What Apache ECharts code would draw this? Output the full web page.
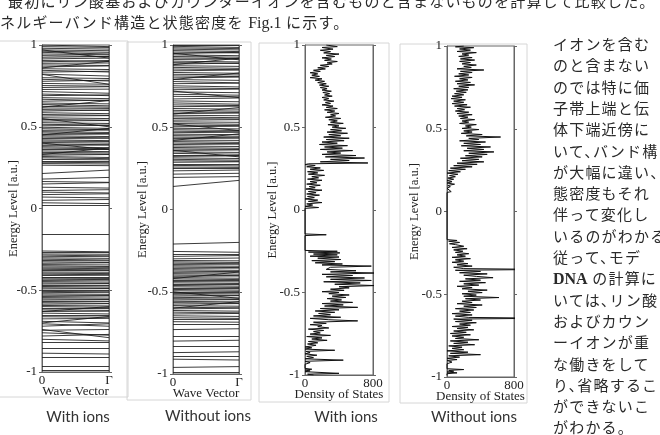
<!DOCTYPE html>
<html>
<head>
<meta charset="utf-8">
<script src="https://cdn.jsdelivr.net/npm/echarts@6/dist/echarts.min.js"></script>
<style>
html, body { margin: 0; padding: 0; background: #fff; overflow: hidden; }
#page { position: relative; width: 660px; height: 435px; overflow: hidden; background: #fff; }
#chart { position: absolute; left: 0; top: 0; width: 660px; height: 435px; }
.jp { position: absolute; font-family: "Noto Sans CJK JP", sans-serif; font-size: 15px; color: #2a2a2a; white-space: nowrap; line-height: 1; letter-spacing: 1.2px; }
.col { font-feature-settings: "halt"; }
.serif { font-family: "Liberation Serif", serif; letter-spacing: 0; font-size: 16px; }
</style>
</head>
<body>
<div id="page">
  <div id="chart"></div>
  <div id="prose"></div>
</div>
<script>
// band energies: [at k = 0, at Γ]
const bandWithIons = [
  [1.00,0.99],[0.99,0.985],[0.98,0.975],[0.97,0.965],[0.962,0.955],[0.955,0.945],[0.945,0.94],[0.935,0.93],
  [0.925,0.93],[0.915,0.92],[0.905,0.90],[0.897,0.905],[0.888,0.89],[0.878,0.875],[0.866,0.872],[0.855,0.85],
  [0.845,0.835],[0.834,0.84],[0.822,0.81],[0.80,0.795],[0.79,0.78],[0.778,0.785],[0.765,0.76],[0.752,0.748],
  [0.74,0.745],[0.728,0.73],[0.715,0.705],[0.70,0.69],[0.69,0.695],[0.678,0.672],[0.668,0.66],[0.656,0.663],
  [0.645,0.64],[0.636,0.628],[0.625,0.62],[0.615,0.612],[0.605,0.60],[0.596,0.602],[0.586,0.58],[0.575,0.57],
  [0.566,0.568],[0.555,0.55],[0.545,0.54],[0.535,0.538],[0.525,0.52],[0.515,0.51],[0.506,0.508],[0.497,0.49],
  [0.488,0.482],[0.478,0.48],[0.47,0.465],[0.462,0.458],[0.453,0.455],[0.445,0.44],[0.437,0.432],[0.428,0.43],
  [0.42,0.415],[0.412,0.41],[0.404,0.40],[0.395,0.39],[0.386,0.388],[0.378,0.372],[0.37,0.365],[0.36,0.362],
  [0.352,0.348],[0.343,0.34],[0.335,0.332],[0.326,0.33],[0.318,0.312],[0.31,0.305],[0.30,0.298],[0.292,0.29],
  [0.283,0.28],[0.275,0.272],[0.265,0.262],
  [0.97,0.92],[0.86,0.90],[0.82,0.76],[0.62,0.66],[0.55,0.50],[0.45,0.49],[0.40,0.36],[0.33,0.37],
  [0.214,0.235],[0.18,0.19],[0.165,0.16],[0.15,0.158],[0.13,0.125],[0.11,0.115],[0.10,0.095],[0.085,0.09],
  [0.07,0.065],[0.05,0.055],[0.035,0.03],[0.02,0.02],
  [-0.16,-0.16],
  [-0.26,-0.265],[-0.27,-0.268],[-0.278,-0.28],[-0.285,-0.29],[-0.295,-0.292],[-0.302,-0.305],[-0.31,-0.315],
  [-0.318,-0.32],[-0.326,-0.33],[-0.335,-0.332],[-0.343,-0.345],[-0.35,-0.355],[-0.358,-0.36],[-0.365,-0.368],
  [-0.372,-0.375],[-0.38,-0.378],[-0.388,-0.39],[-0.395,-0.398],[-0.402,-0.405],[-0.41,-0.408],[-0.418,-0.42],
  [-0.425,-0.428],[-0.432,-0.435],[-0.44,-0.438],[-0.447,-0.45],[-0.455,-0.458],[-0.462,-0.46],[-0.47,-0.472],
  [-0.477,-0.48],[-0.485,-0.488],[-0.492,-0.49],[-0.50,-0.502],[-0.507,-0.51],[-0.515,-0.512],[-0.522,-0.525],
  [-0.53,-0.532],[-0.538,-0.535],[-0.545,-0.548],[-0.553,-0.556],[-0.56,-0.558],[-0.568,-0.57],[-0.576,-0.58],
  [-0.585,-0.582],[-0.593,-0.596],[-0.60,-0.605],[-0.61,-0.608],[-0.62,-0.623],[-0.63,-0.628],[-0.64,-0.645],
  [-0.652,-0.65],[-0.662,-0.665],[-0.675,-0.672],
  [-0.63,-0.60],[-0.70,-0.66],[-0.74,-0.79],
  [-0.69,-0.70],[-0.705,-0.72],[-0.72,-0.705],[-0.745,-0.74],[-0.76,-0.775],[-0.78,-0.77],[-0.80,-0.81],
  [-0.82,-0.82],[-0.855,-0.855],[-0.885,-0.89],[-0.91,-0.91],[-0.965,-0.965],[-0.99,-0.99]
];

const bandWithoutIons = [
  [1.0,1.0],[0.992,0.985],[0.983,0.978],[0.975,0.97],[0.966,0.96],[0.957,0.952],[0.948,0.955],[0.94,0.935],
  [0.93,0.926],[0.921,0.918],[0.912,0.915],[0.902,0.897],[0.893,0.888],[0.884,0.89],[0.874,0.87],[0.864,0.858],
  [0.854,0.85],[0.843,0.848],[0.833,0.828],[0.822,0.818],[0.812,0.808],[0.80,0.805],[0.79,0.785],[0.778,0.77],
  [0.765,0.768],[0.752,0.745],[0.74,0.735],[0.728,0.732],[0.715,0.71],[0.70,0.695],[0.688,0.685],[0.672,0.678],
  [0.66,0.655],[0.648,0.64],[0.636,0.632],[0.625,0.628],[0.614,0.61],[0.603,0.598],[0.593,0.59],[0.583,0.586],
  [0.573,0.57],[0.563,0.558],[0.553,0.55],[0.543,0.546],[0.533,0.53],[0.523,0.518],[0.513,0.51],[0.503,0.506],
  [0.494,0.49],[0.485,0.48],[0.476,0.472],[0.467,0.47],[0.458,0.455],[0.449,0.445],[0.44,0.436],[0.431,0.434],
  [0.422,0.42],[0.413,0.408],[0.404,0.40],[0.395,0.398],[0.386,0.383],[0.377,0.372],[0.368,0.365],[0.359,0.362],
  [0.35,0.347],[0.341,0.336],[0.332,0.33],[0.323,0.326],[0.314,0.31],[0.305,0.30],[0.296,0.293],[0.287,0.29],
  [0.278,0.276],[0.268,0.265],[0.258,0.256],[0.248,0.25],[0.235,0.24],[0.215,0.22],[0.195,0.20],[0.14,0.177],
  [0.95,0.91],[0.88,0.92],[0.79,0.83],[0.72,0.68],[0.58,0.62],[0.52,0.48],[0.42,0.46],[0.36,0.32],
  [-0.21,-0.20],[-0.255,-0.26],[-0.27,-0.272],[-0.285,-0.28],[-0.30,-0.295],
  [-0.31,-0.312],[-0.318,-0.322],[-0.326,-0.33],[-0.334,-0.332],[-0.342,-0.345],[-0.35,-0.353],[-0.358,-0.356],
  [-0.366,-0.37],[-0.374,-0.378],[-0.382,-0.38],[-0.39,-0.393],[-0.398,-0.402],[-0.406,-0.404],[-0.414,-0.418],
  [-0.422,-0.426],[-0.43,-0.428],[-0.438,-0.44],[-0.446,-0.45],[-0.454,-0.452],[-0.462,-0.466],[-0.47,-0.474],
  [-0.478,-0.476],[-0.486,-0.49],[-0.494,-0.498],[-0.502,-0.50],[-0.51,-0.513],[-0.518,-0.522],[-0.526,-0.524],
  [-0.534,-0.538],[-0.542,-0.546],[-0.55,-0.548],[-0.558,-0.562],[-0.566,-0.57],[-0.575,-0.572],[-0.584,-0.588],
  [-0.594,-0.598],[-0.604,-0.60],[-0.614,-0.618],[-0.624,-0.628],[-0.635,-0.632],[-0.646,-0.65],[-0.658,-0.662],
  [-0.67,-0.668],[-0.682,-0.685],
  [-0.42,-0.38],[-0.50,-0.54],[-0.60,-0.56],
  [-0.70,-0.70],[-0.73,-0.725],[-0.77,-0.77],[-0.80,-0.795],[-0.83,-0.83],[-0.87,-0.865],[-0.89,-0.89],
  [-0.91,-0.915],[-0.96,-0.955],[-0.99,-0.99]
];

// density of states: [dos, energy]
const dosWithIons = [
  [250,1.0],[380,0.99],[200,0.985],[330,0.975],[180,0.968],[300,0.96],[220,0.952],[400,0.945],[250,0.937],
  [350,0.93],[200,0.922],[310,0.915],[230,0.907],[380,0.9],[260,0.892],[320,0.885],[180,0.877],[280,0.87],
  [150,0.862],[240,0.855],[100,0.847],[180,0.84],[60,0.832],[150,0.825],[80,0.817],[170,0.81],[60,0.802],
  [200,0.795],[120,0.787],[230,0.78],[150,0.772],[250,0.765],[170,0.757],[280,0.75],[180,0.742],[260,0.735],
  [200,0.727],[310,0.72],[210,0.712],[290,0.705],[230,0.697],[320,0.69],[200,0.682],[280,0.675],[220,0.667],
  [340,0.66],[240,0.652],[300,0.645],[200,0.637],[330,0.63],[250,0.622],[380,0.615],[230,0.607],[350,0.6],
  [260,0.592],[400,0.585],[300,0.577],[360,0.57],[240,0.562],[420,0.555],[280,0.547],[380,0.54],[300,0.532],
  [450,0.525],[270,0.517],[400,0.51],[320,0.502],[480,0.495],[300,0.487],[430,0.48],[260,0.472],[500,0.465],
  [280,0.457],[420,0.45],[220,0.442],[520,0.435],[250,0.427],[460,0.42],[200,0.412],[380,0.405],[170,0.397],
  [500,0.39],[230,0.382],[440,0.375],[180,0.367],[560,0.36],[260,0.352],[420,0.345],[200,0.337],[600,0.33],
  [240,0.322],[700,0.315],[300,0.307],[520,0.3],[180,0.292],[740,0.285],[40,0.28],[0,0.275],[120,0.27],
  [20,0.262],[180,0.255],[60,0.247],[220,0.24],[30,0.232],[150,0.225],[40,0.217],[230,0.21],[80,0.202],
  [160,0.195],[30,0.187],[200,0.18],[60,0.172],[140,0.165],[20,0.157],[180,0.15],[50,0.142],[120,0.135],
  [10,0.127],[200,0.12],[40,0.112],[130,0.105],[20,0.097],[170,0.09],[30,0.082],[110,0.075],[0,0.067],
  [150,0.06],[40,0.052],[200,0.045],[20,0.037],[90,0.03],[0,0.022],[160,0.015],[0,0.01],
  [0,-0.145],[250,-0.15],[0,-0.155],[0,-0.245],
  [380,-0.25],[40,-0.255],[410,-0.26],[100,-0.267],[380,-0.272],[60,-0.28],[400,-0.285],[150,-0.292],
  [420,-0.3],[80,-0.307],[350,-0.313],[120,-0.32],[440,-0.327],[200,-0.333],[780,-0.34],[300,-0.347],
  [250,-0.36],[600,-0.368],[300,-0.375],[830,-0.382],[200,-0.39],[560,-0.397],[250,-0.405],[700,-0.412],
  [300,-0.42],[780,-0.427],[220,-0.435],[650,-0.442],[350,-0.45],[830,-0.458],[400,-0.465],[520,-0.472],
  [300,-0.48],[460,-0.487],[200,-0.495],[400,-0.5],[280,-0.507],[520,-0.515],[320,-0.522],[480,-0.53],
  [260,-0.537],[430,-0.545],[300,-0.552],[560,-0.56],[200,-0.567],[450,-0.575],[230,-0.582],[620,-0.59],
  [180,-0.597],[400,-0.605],[120,-0.612],[350,-0.62],[160,-0.627],[300,-0.635],[100,-0.642],[420,-0.65],
  [60,-0.657],[280,-0.665],[620,-0.672],[100,-0.68],[250,-0.687],[60,-0.695],[200,-0.7],[150,-0.707],
  [280,-0.715],[40,-0.722],[220,-0.73],[100,-0.737],[180,-0.745],[60,-0.752],[300,-0.76],[20,-0.767],
  [200,-0.775],[80,-0.782],[260,-0.79],[40,-0.797],[150,-0.805],[30,-0.812],[130,-0.82],[0,-0.83],
  [80,-0.835],[0,-0.843],[350,-0.85],[10,-0.857],[60,-0.865],[0,-0.872],[140,-0.88],[20,-0.887],
  [100,-0.895],[0,-0.902],[450,-0.91],[0,-0.917],[60,-0.925],[0,-0.935],[0,-0.96],[80,-0.965],[0,-0.97],
  [60,-0.975],[0,-0.98],[400,-0.99],[30,-0.995],[100,-1.0]
];

const dosWithoutIons = [
  [200,1.0],[100,0.995],[320,0.99],[150,0.982],[280,0.975],[120,0.967],[350,0.96],[180,0.952],[260,0.945],
  [140,0.937],[300,0.93],[160,0.922],[330,0.915],[150,0.907],[280,0.9],[180,0.892],[350,0.885],[200,0.877],
  [290,0.87],[120,0.862],[440,0.855],[160,0.847],[300,0.84],[140,0.832],[260,0.825],[90,0.817],[300,0.81],
  [150,0.802],[250,0.795],[100,0.787],[280,0.78],[120,0.772],[330,0.765],[140,0.757],[260,0.75],[80,0.742],
  [250,0.735],[110,0.727],[230,0.72],[90,0.712],[200,0.705],[60,0.697],[180,0.69],[50,0.682],[220,0.675],
  [80,0.667],[200,0.66],[60,0.652],[240,0.645],[90,0.637],[280,0.63],[120,0.622],[210,0.615],[100,0.607],
  [260,0.6],[120,0.592],[300,0.585],[140,0.577],[250,0.57],[160,0.562],[330,0.555],[180,0.547],[260,0.54],
  [150,0.532],[350,0.525],[220,0.517],[290,0.51],[180,0.502],[380,0.495],[200,0.487],[300,0.48],[170,0.472],
  [420,0.465],[230,0.457],[640,0.45],[260,0.442],[380,0.435],[150,0.427],[460,0.42],[200,0.412],[400,0.405],
  [170,0.397],[520,0.39],[240,0.382],[440,0.375],[200,0.367],[560,0.36],[260,0.352],[480,0.345],[220,0.337],
  [420,0.33],[160,0.322],[380,0.315],[180,0.307],[440,0.3],[120,0.292],[360,0.285],[80,0.277],[300,0.27],
  [40,0.262],[220,0.255],[20,0.247],[160,0.24],[0,0.232],[130,0.225],[30,0.217],[100,0.21],[10,0.202],
  [80,0.195],[0,0.187],[60,0.18],[0,0.172],[90,0.165],[10,0.157],[40,0.15],[0,0.14],[50,0.12],[0,0.115],
  [0,-0.17],[120,-0.175],[20,-0.18],[150,-0.187],[30,-0.195],[100,-0.2],[200,-0.21],[60,-0.217],[240,-0.225],
  [80,-0.232],[190,-0.24],[100,-0.247],[260,-0.255],[120,-0.262],[220,-0.27],[60,-0.277],[280,-0.285],
  [100,-0.292],[200,-0.3],[60,-0.307],[250,-0.315],[120,-0.322],[300,-0.33],[80,-0.337],[200,-0.345],
  [1200,-0.35],[100,-0.355],[400,-0.362],[150,-0.37],[480,-0.377],[200,-0.385],[350,-0.392],[550,-0.4],
  [220,-0.407],[400,-0.415],[150,-0.422],[460,-0.43],[200,-0.437],[380,-0.445],[120,-0.452],[300,-0.46],
  [180,-0.467],[480,-0.475],[250,-0.482],[420,-0.49],[180,-0.497],[350,-0.505],[200,-0.512],[620,-0.52],
  [220,-0.527],[400,-0.535],[180,-0.542],[300,-0.55],[120,-0.557],[420,-0.565],[200,-0.572],[350,-0.58],
  [100,-0.587],[320,-0.595],[150,-0.602],[280,-0.61],[60,-0.617],[300,-0.625],[100,-0.632],[260,-0.64],
  [1200,-0.645],[80,-0.65],[300,-0.657],[100,-0.665],[350,-0.672],[150,-0.68],[280,-0.687],[60,-0.695],
  [250,-0.7],[120,-0.707],[320,-0.715],[80,-0.722],[230,-0.73],[40,-0.737],[280,-0.745],[60,-0.752],
  [200,-0.76],[100,-0.767],[380,-0.775],[40,-0.782],[250,-0.79],[80,-0.797],[330,-0.805],[20,-0.812],
  [180,-0.82],[60,-0.827],[200,-0.835],[0,-0.842],[250,-0.85],[40,-0.857],[400,-0.865],[20,-0.872],
  [150,-0.88],[0,-0.887],[120,-0.895],[0,-0.9],[60,-0.91],[0,-0.92],[0,-0.95],[200,-0.955],[20,-0.96],
  [80,-0.965],[0,-0.97],[120,-0.975],[0,-0.98],[0,-0.99]
];

const energyTicks = ['-1', '-0.5', '0', '0.5', '1'];
const bandXTicks = ['0', 'Γ'];
const dosXTicks = ['0', '800'];
const panelTitles = ['With ions', 'Without ions', 'With ions', 'Without ions'];

const topLines = [
  '最初にリン酸基およびカウンターイオンを含むものと含まないものを計算して比較した。',
  'ネルギーバンド構造と状態密度を <span class="serif">Fig.1</span> に示す。'
];
const columnLines = [
  'イオンを含む', 'のと含まない', 'のでは特に価', '子帯上端と伝', '体下端近傍に',
  'いて、バンド構', 'が大幅に違い、', '態密度もそれ', '伴って変化し', 'いるのがわかる',
  '従って、モデ', '<b class="serif">DNA</b> の計算に', 'いては、リン酸', 'およびカウン', 'ーイオンが重',
  'な働きをして', 'り、省略するこ', 'ができないこ', 'がわかる。'
];

// page text
const prose = document.getElementById('prose');
let html = '';
html += '<div class="jp" style="left:8px;top:-7px;">' + topLines[0] + '</div>';
html += '<div class="jp" style="left:0px;top:14px;">' + topLines[1] + '</div>';
columnLines.forEach((t, i) => {
  html += '<div class="jp col" style="left:553px;top:' + (36 + i * 21.3).toFixed(1) + 'px;">' + t + '</div>';
});
prose.innerHTML = html;

const serif = 'Liberation Serif';
const grids = [
  { left: 42, top: 45, width: 67, height: 327 },
  { left: 173, top: 45, width: 66, height: 329 },
  { left: 305, top: 45, width: 68, height: 330 },
  { left: 447, top: 46, width: 67, height: 331 }
];
const yNameGaps = [22, 24, 26, 26];

const chart = echarts.init(document.getElementById('chart'), null, { renderer: 'canvas' });

const xAxes = grids.map((g, i) => {
  const isBand = i < 2;
  const ticks = isBand ? bandXTicks : dosXTicks;
  const max = isBand ? 1 : 800;
  return {
    gridIndex: i, type: 'value', min: 0, max: max, interval: max,
    axisLine: { onZero: false, lineStyle: { color: '#666', width: 1 } },
    axisTick: { show: false },
    splitLine: { show: false },
    axisLabel: {
      formatter: (v) => (v === 0 ? ticks[0] : ticks[1]),
      fontFamily: serif, fontSize: 13, color: '#222', margin: 2
    },
    name: isBand ? 'Wave Vector' : 'Density of States',
    nameLocation: 'middle', nameGap: 13, nameMoveOverlap: false,
    nameTextStyle: { fontFamily: serif, fontSize: 13, color: '#222' }
  };
});

const yLeft = grids.map((g, i) => ({
  gridIndex: i, type: 'value', min: -1, max: 1, interval: 0.5,
  axisLine: { show: true, onZero: false, lineStyle: { color: '#666', width: 1 } },
  axisTick: { show: true, length: 3, lineStyle: { color: '#666' } },
  splitLine: { show: false },
  axisLabel: {
    formatter: (v) => energyTicks[Math.round((v + 1) * 2)],
    fontFamily: serif, fontSize: 13, color: '#222', margin: 5
  },
  name: 'Energy Level [a.u.]', nameLocation: 'middle', nameGap: yNameGaps[i], nameMoveOverlap: false,
  nameTextStyle: { fontFamily: serif, fontSize: 12.5, color: '#222' }
}));
const yRight = grids.map((g, i) => ({
  gridIndex: i, type: 'value', position: 'right', min: -1, max: 1, interval: 0.5,
  axisLine: { show: true, onZero: false, lineStyle: { color: '#666', width: 1 } },
  axisTick: { show: true, length: 3, lineStyle: { color: '#666' } },
  splitLine: { show: false },
  axisLabel: { show: false }
}));

const bandSeries = [bandWithIons, bandWithoutIons].map((bands, i) => ({
  type: 'lines', coordinateSystem: 'cartesian2d', xAxisIndex: i, yAxisIndex: i,
  silent: true, animation: false,
  lineStyle: { color: '#1a1a1a', width: 1, opacity: 0.85 },
  data: bands.map((b) => ({ coords: [[0, b[0]], [1, b[1]]] }))
}));
const dosSeries = [dosWithIons, dosWithoutIons].map((d, i) => ({
  type: 'line', xAxisIndex: i + 2, yAxisIndex: i + 2,
  data: d, symbol: 'none', clip: true, silent: true, animation: false,
  lineStyle: { color: '#111', width: 1 }
}));

// light panel frames and captions
const frames = [
  [-1, 41, 129, 356], [127, 42, 124, 358], [259, 43, 130, 359], [400, 44, 127, 359]
];
const captionPos = [[78, 417], [208, 416], [346, 417], [474, 417]];
const graphics = frames.map((f) => ({
  type: 'rect', z: -10, silent: true,
  shape: { x: f[0], y: f[1], width: f[2], height: f[3] },
  style: { fill: 'none', stroke: '#d6d6d6', lineWidth: 1 }
})).concat(panelTitles.map((t, i) => ({
  type: 'text', x: captionPos[i][0], y: captionPos[i][1], silent: true,
  style: { text: t, font: '15px Lato', fill: '#333', align: 'center', verticalAlign: 'middle' }
})));

chart.setOption({
  backgroundColor: 'transparent',
  animation: false,
  grid: grids.map((g) => Object.assign({
    show: true, borderColor: '#666', borderWidth: 1, backgroundColor: 'transparent',
    containLabel: false, outerBoundsMode: 'none'
  }, g)),
  xAxis: xAxes,
  yAxis: yLeft.concat(yRight),
  series: bandSeries.concat(dosSeries),
  graphic: graphics
});
</script>
</body>
</html>
